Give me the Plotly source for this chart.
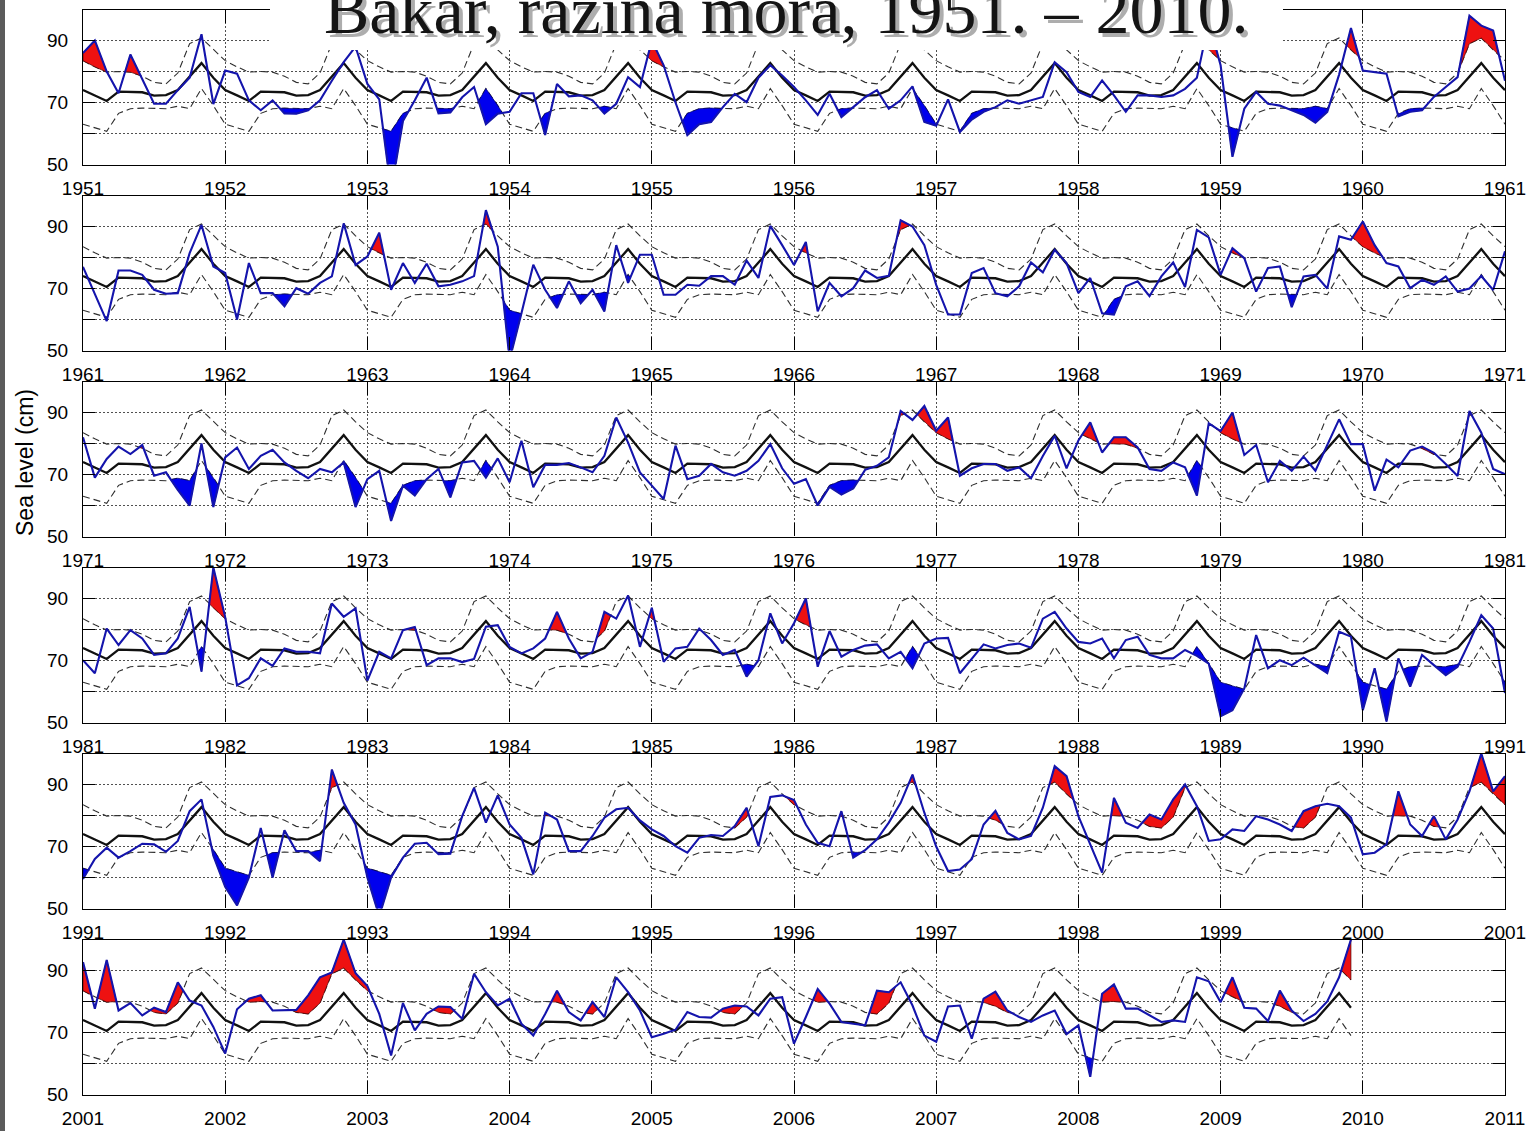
import numpy as np
import plotly.graph_objects as go

# Monthly climatology (Jan..Dec) and its upper/lower envelope, cm
clim_mean = [74.0, 72.3, 70.5, 73.5, 73.5, 73.3, 72.2, 72.4, 74.0, 78.5, 82.7, 78.0]
clim_upper = [83.5, 81.5, 79.8, 80.0, 79.8, 78.5, 76.5, 76.0, 79.5, 89.0, 90.8, 87.0]
clim_lower = [63.0, 61.8, 60.7, 66.5, 68.0, 68.2, 68.0, 68.0, 68.8, 68.0, 74.5, 69.0]

# Monthly mean sea level at Bakar (cm), one row per year
sl_1951_1960 = [
    86.0, 90.0, 80.0, 73.0, 85.5, 77.5, 69.6, 69.6, 74.0, 78.0, 92.0, 69.5,
    80.3, 79.3, 70.7, 67.5, 70.7, 66.5, 66.4, 67.5, 70.7, 77.0, 83.0, 88.0,
    76.0, 71.0, 41.5, 64.0, 70.7, 78.0, 66.5, 66.8, 71.7, 75.0, 63.0, 66.4,
    67.0, 73.0, 73.0, 59.5, 76.0, 72.0, 72.3, 70.7, 66.4, 69.6, 78.2, 75.0,
    90.0, 82.0, 70.0, 59.5, 63.0, 63.7, 68.5, 72.8, 70.1, 78.0, 82.0, 78.7,
    75.0, 70.7, 66.0, 72.8, 65.3, 68.5, 71.7, 74.0, 68.0, 70.7, 75.2, 63.7,
    62.5, 71.0, 60.5, 64.5, 67.0, 68.5, 70.7, 69.6, 70.7, 71.8, 83.0, 79.8,
    73.4, 71.8, 77.1, 72.3, 67.0, 72.3, 72.3, 71.8, 72.3, 74.4, 78.0, 96.0,
    82.0, 52.5, 68.0, 73.4, 69.6, 69.0, 67.5, 66.0, 63.5, 67.0, 79.0, 94.0,
    80.3, 79.8, 79.3, 65.5, 67.0, 67.5, 71.8, 75.0, 78.2, 98.0, 94.8, 93.2,
]
sl_1961_1970 = [
    77.0, 68.0, 59.5, 75.8, 75.8, 74.4, 69.6, 68.3, 68.5, 81.4, 90.5, 77.1,
    75.0, 60.0, 78.2, 68.5, 68.5, 64.3, 70.1, 68.3, 71.8, 73.9, 91.0, 77.6,
    80.3, 88.0, 69.6, 78.2, 71.8, 78.0, 70.7, 71.2, 72.3, 74.0, 95.3, 83.5,
    47.0, 62.0, 77.7, 69.6, 63.7, 72.3, 65.3, 69.6, 62.6, 84.0, 71.8, 80.9,
    80.9, 68.0, 68.0, 71.2, 70.9, 74.0, 74.0, 71.2, 79.0, 73.4, 90.2, 84.0,
    77.6, 85.0, 62.6, 71.8, 67.5, 70.1, 75.8, 73.4, 74.1, 92.0, 90.0, 84.0,
    71.2, 61.6, 61.6, 75.0, 76.6, 68.5, 67.5, 70.7, 78.4, 75.2, 82.5, 78.2,
    68.5, 73.4, 62.0, 61.6, 70.7, 72.3, 67.5, 73.9, 78.4, 70.5, 88.9, 86.5,
    74.4, 83.0, 79.8, 69.0, 76.6, 77.1, 64.0, 73.9, 74.4, 70.0, 86.8, 85.7,
    91.6, 84.0, 78.2, 77.1, 70.1, 72.8, 71.2, 73.9, 69.0, 70.0, 74.0, 69.5,
]
sl_1971_1980 = [
    82.0, 69.0, 75.0, 79.0, 76.6, 79.5, 69.6, 70.7, 65.0, 60.0, 80.0, 59.5,
    75.5, 78.7, 71.8, 76.0, 78.0, 73.9, 71.2, 68.8, 71.8, 70.7, 73.9, 59.5,
    68.5, 71.2, 55.0, 66.4, 63.2, 68.5, 71.8, 62.6, 73.9, 74.4, 69.0, 75.2,
    67.5, 80.9, 65.9, 73.1, 73.1, 73.7, 72.3, 70.7, 76.0, 88.4, 80.3, 70.7,
    66.4, 62.1, 79.3, 68.5, 69.6, 73.4, 70.7, 69.6, 71.2, 74.4, 79.8, 72.0,
    67.0, 68.5, 60.0, 66.0, 63.5, 65.5, 71.5, 72.8, 75.5, 90.5, 87.6, 92.1,
    84.1, 88.4, 69.6, 72.0, 73.4, 73.4, 71.2, 72.3, 68.8, 76.0, 82.5, 72.0,
    81.0, 86.8, 77.1, 82.0, 82.0, 78.7, 71.8, 71.2, 73.9, 72.3, 63.2, 86.5,
    84.0, 90.0, 76.3, 79.5, 67.5, 74.4, 71.2, 75.8, 71.2, 79.3, 87.8, 79.8,
    79.8, 64.8, 74.8, 72.3, 77.7, 79.0, 77.0, 73.4, 69.5, 90.5, 83.5, 71.8,
]
sl_1981_1990 = [
    70.1, 65.9, 80.3, 75.0, 79.8, 77.1, 71.8, 72.3, 77.1, 87.3, 66.4, 100.0,
    84.0, 62.0, 64.3, 70.7, 68.3, 73.9, 72.8, 72.8, 72.3, 88.4, 84.1, 86.8,
    63.5, 72.8, 70.7, 79.8, 80.8, 68.5, 70.7, 70.7, 69.5, 70.5, 80.9, 81.4,
    74.4, 72.3, 73.9, 77.1, 85.7, 77.1, 70.7, 72.8, 85.7, 83.5, 91.0, 74.4,
    87.0, 69.6, 73.9, 74.4, 80.3, 76.6, 71.8, 73.4, 64.8, 70.1, 85.2, 75.5,
    82.0, 90.0, 68.0, 79.5, 71.2, 73.4, 74.8, 75.2, 70.7, 72.8, 67.5, 75.5,
    77.1, 77.3, 65.9, 70.7, 75.2, 73.9, 75.0, 75.5, 74.1, 83.5, 85.7, 80.3,
    76.0, 75.5, 77.1, 70.7, 76.6, 77.7, 71.8, 70.7, 70.7, 73.4, 71.5, 69.0,
    52.0, 54.0, 61.0, 78.2, 67.5, 70.1, 68.5, 70.9, 68.5, 65.9, 79.3, 77.7,
    54.0, 67.5, 50.3, 70.7, 61.6, 71.8, 68.5, 65.3, 68.0, 76.0, 84.6, 80.3,
]
sl_1991_2000 = [
    59.5, 66.0, 69.6, 66.4, 68.5, 70.9, 70.7, 68.3, 71.8, 81.4, 85.2, 67.0,
    57.0, 51.0, 60.0, 76.0, 60.0, 75.2, 68.5, 68.5, 65.3, 94.8, 84.1, 77.1,
    60.0, 47.5, 60.0, 66.4, 70.9, 71.2, 67.5, 67.7, 79.8, 88.9, 77.7, 86.5,
    77.1, 72.8, 61.0, 80.9, 78.7, 68.5, 68.5, 73.4, 79.3, 82.0, 82.5, 78.4,
    75.5, 73.4, 70.1, 68.0, 72.8, 73.7, 73.4, 76.6, 82.5, 70.1, 86.0, 86.5,
    85.0, 77.1, 71.2, 70.1, 81.4, 66.4, 68.8, 72.3, 77.7, 84.1, 93.2, 80.9,
    70.0, 62.1, 62.6, 65.9, 77.1, 81.5, 74.4, 72.3, 73.4, 82.5, 95.9, 92.7,
    79.8, 70.7, 61.6, 85.7, 77.7, 76.0, 80.3, 78.7, 85.2, 90.0, 83.0, 71.8,
    72.3, 75.5, 75.0, 79.8, 78.7, 77.1, 75.0, 81.4, 83.0, 83.8, 83.0, 79.3,
    67.5, 68.0, 70.7, 87.8, 77.1, 73.4, 79.8, 72.3, 78.7, 87.8, 100.0, 87.8,
]
sl_2001_2009 = [
    92.7, 77.7, 93.4, 77.1, 79.5, 75.5, 78.0, 76.6, 86.2, 80.3, 78.7, 71.8,
    63.2, 77.5, 80.9, 82.0, 77.1, 77.1, 77.3, 82.0, 87.8, 89.4, 100.0, 89.1,
    85.0, 76.0, 62.6, 79.5, 70.7, 76.0, 78.4, 78.2, 74.4, 88.9, 83.0, 78.7,
    80.9, 72.8, 69.0, 76.0, 83.5, 76.6, 73.9, 79.8, 75.0, 87.8, 83.0, 77.1,
    68.5, 69.6, 70.9, 76.6, 75.0, 74.8, 77.7, 78.7, 78.4, 75.5, 80.9, 81.4,
    66.4, 75.0, 84.0, 79.3, 73.4, 72.8, 72.3, 83.5, 83.0, 86.2, 78.7, 69.0,
    67.0, 78.4, 78.7, 68.0, 80.9, 83.2, 77.1, 75.0, 73.4, 75.5, 77.1, 69.5,
    72.3, 55.7, 82.5, 85.5, 77.7, 77.7, 75.5, 73.4, 73.9, 73.4, 87.8, 86.5,
    79.8, 87.8, 78.0, 77.7, 73.7, 83.5, 77.1, 73.7, 76.0, 80.0, 87.8, 100.0,
]

decade_starts = [1951, 1961, 1971, 1981, 1991, 2001]
decade_series = [sl_1951_1960, sl_1961_1970, sl_1971_1980,
                 sl_1981_1990, sl_1991_2000, sl_2001_2009]

title_text = "Bakar, razina mora, 1951. \u2013 2010."
ylabel_text = "Sea level (cm)"

# ---- continuous monthly series -------------------------------------------
obs = np.concatenate([np.asarray(s, dtype=float) for s in decade_series])
n = len(obs)
t = decade_starts[0] + np.arange(n) / 12.0
moy = np.arange(n) % 12
mean = np.asarray(clim_mean)[moy]
upper = np.asarray(clim_upper)[moy]
lower = np.asarray(clim_lower)[moy]


def exceed_polygons(tt, oo, bb, sign):
    """Closed polygons between series oo and bound bb where sign*(oo-bb) > 0."""
    d = sign * (oo - bb)
    polys, cur = [], None
    for i in range(len(tt)):
        if i > 0 and (d[i - 1] > 0) != (d[i] > 0):
            f = d[i - 1] / (d[i - 1] - d[i])
            tc = tt[i - 1] + f * (tt[i] - tt[i - 1])
            bc = bb[i - 1] + f * (bb[i] - bb[i - 1])
            if d[i] > 0:
                cur = [(tc, bc, bc)]
            else:
                cur.append((tc, bc, bc))
                polys.append(cur)
                cur = None
        if d[i] > 0:
            if cur is None:
                cur = []
            cur.append((tt[i], oo[i], bb[i]))
    if cur:
        polys.append(cur)
    xs, ys = [], []
    for poly in polys:
        px = [p[0] for p in poly] + [p[0] for p in reversed(poly)]
        py = [p[1] for p in poly] + [p[2] for p in reversed(poly)]
        xs += px + [px[0], None]
        ys += py + [py[0], None]
    return xs, ys


# ---- page geometry (pixels) ----------------------------------------------
W, H = 1532, 1131
X_LEFT, X_RIGHT = 83, 1505
TOP0, PANEL_H, STEP = 9.5, 155.0, 186.0

fig = go.Figure()

# full-page helper subplot so that every panel paints its own background
fig.add_trace(go.Scatter(x=[0], y=[0], mode="markers", marker=dict(opacity=0),
                         hoverinfo="skip", showlegend=False, xaxis="x", yaxis="y"))

layout_axes = {
    "xaxis": dict(domain=[0, 1], range=[0, 1], visible=False, fixedrange=True),
    "yaxis": dict(domain=[0, 1], range=[0, 1], visible=False, fixedrange=True),
}

tick_font = dict(family="Liberation Sans, Arial, sans-serif", size=19, color="black")
dash_line = dict(color="#2e2e2e", width=1.1, dash="7px,4px")

for p, y0 in enumerate(decade_starts):
    k = p + 2
    xa, ya = f"x{k}", f"y{k}"
    s = 120 * p
    e = min(s + 121, n)
    tt, oo = t[s:e], obs[s:e]
    uu, ll, mm = upper[s:e], lower[s:e], mean[s:e]

    common = dict(xaxis=xa, yaxis=ya, hoverinfo="skip", showlegend=False)
    fig.add_trace(go.Scatter(x=tt, y=uu, mode="lines", line=dash_line, **common))
    fig.add_trace(go.Scatter(x=tt, y=ll, mode="lines", line=dash_line, **common))
    fig.add_trace(go.Scatter(x=tt, y=mm, mode="lines",
                             line=dict(color="#111111", width=2.3), **common))

    rx, ry = exceed_polygons(tt, oo, uu, +1)
    if rx:
        fig.add_trace(go.Scatter(x=rx, y=ry, mode="lines", fill="toself",
                                 fillcolor="#ee1111",
                                 line=dict(color="#500000", width=0.7), **common))
    bx, by = exceed_polygons(tt, oo, ll, -1)
    if bx:
        fig.add_trace(go.Scatter(x=bx, y=by, mode="lines", fill="toself",
                                 fillcolor="#0000ee",
                                 line=dict(color="#000060", width=0.7), **common))

    fig.add_trace(go.Scatter(x=tt, y=oo, mode="lines",
                             line=dict(color="#1414ac", width=2.1), **common))

    top = TOP0 + STEP * p
    bot = top + PANEL_H
    years = list(range(y0, y0 + 11))
    layout_axes[f"xaxis{k}"] = dict(
        domain=[X_LEFT / W, X_RIGHT / W], anchor=ya, range=[y0, y0 + 10],
        tickmode="array", tickvals=years, ticktext=[str(v) for v in years],
        ticks="inside", ticklen=13, tickwidth=1, tickcolor="black",
        showline=True, linecolor="black", linewidth=1.2, mirror="allticks",
        showgrid=True, gridcolor="#505050", gridwidth=1, griddash="2px,2px",
        zeroline=False, tickfont=tick_font, ticklabelstandoff=7,
        automargin=False, fixedrange=True,
    )
    layout_axes[f"yaxis{k}"] = dict(
        domain=[1 - bot / H, 1 - top / H], anchor=xa, range=[50, 100],
        tickmode="array", tickvals=[50, 60, 70, 80, 90, 100],
        ticktext=["50", "", "70", "", "90", ""],
        ticks="inside", ticklen=12, tickwidth=1, tickcolor="black",
        showline=True, linecolor="black", linewidth=1.2, mirror="allticks",
        showgrid=True, gridcolor="#505050", gridwidth=1, griddash="2px,2px",
        zeroline=False, tickfont=tick_font, ticklabelstandoff=10,
        automargin=False, fixedrange=True,
    )

fig.update_layout(
    width=W, height=H,
    margin=dict(l=0, r=0, t=0, b=0, pad=0, autoexpand=False),
    paper_bgcolor="white", plot_bgcolor="white",
    showlegend=False, hovermode=False,
    **layout_axes,
)

# white banner behind the title and the dark strip on the left edge
fig.add_shape(type="rect", xref="paper", yref="paper",
              x0=270 / W, x1=1283 / W, y0=1 - 50 / H, y1=1.02,
              fillcolor="white", line=dict(width=0), layer="above")
fig.add_shape(type="rect", xref="paper", yref="paper",
              x0=0, x1=5 / W, y0=0, y1=1,
              fillcolor="#5b5b5b", line=dict(width=0), layer="above")

title_font = dict(family="Liberation Serif, Times New Roman, serif", size=68)
title_x = 786 / W
title_y = 1 - 50 / H
fig.add_annotation(text=title_text, xref="paper", yref="paper",
                   x=title_x, y=title_y, xanchor="center", yanchor="bottom",
                   xshift=4, yshift=-4, showarrow=False,
                   font=dict(color="rgba(0,0,0,0.32)", **title_font))
fig.add_annotation(text=title_text, xref="paper", yref="paper",
                   x=title_x, y=title_y, xanchor="center", yanchor="bottom",
                   showarrow=False, font=dict(color="#141414", **title_font))

fig.add_annotation(text=ylabel_text, xref="paper", yref="paper",
                   x=25 / W, y=1 - 463 / H, textangle=-90, showarrow=False,
                   xanchor="center", yanchor="middle",
                   font=dict(family="Liberation Sans, Arial, sans-serif", size=23,
                             color="black"))

fig.write_html("out.html")
